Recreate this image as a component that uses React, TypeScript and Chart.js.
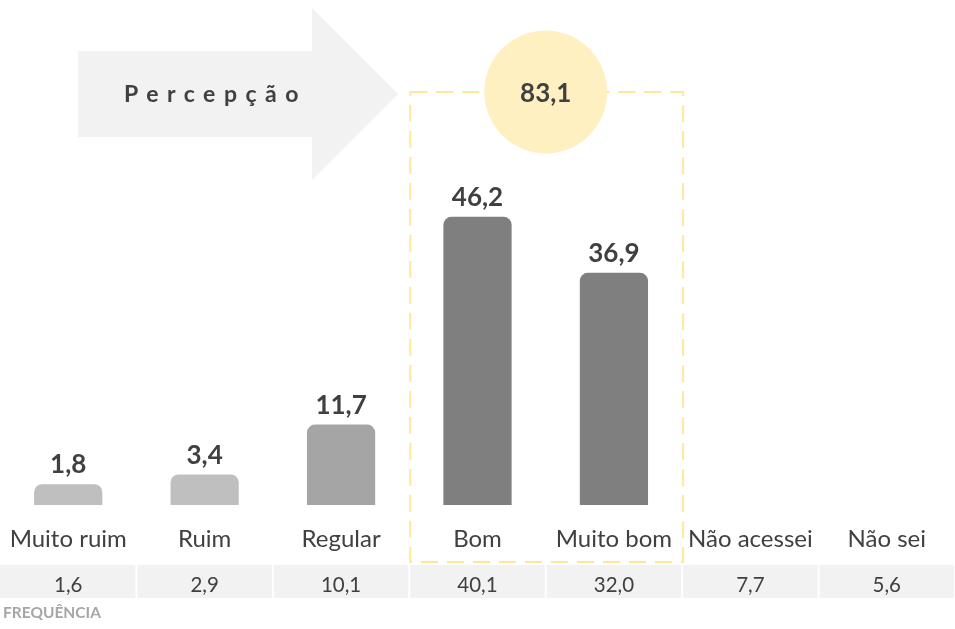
import React, { useEffect, useRef } from "react";
import { Chart, registerables } from "chart.js";

Chart.register(...registerables);

const categories = ["Muito ruim", "Ruim", "Regular", "Bom", "Muito bom", "Não acessei", "Não sei"];
const perceptionValues = [1.8, 3.4, 11.7, 46.2, 36.9, null, null];
const frequencyValues = [1.6, 2.9, 10.1, 40.1, 32.0, 7.7, 5.6];
const highlightedTotal = 83.1;
const titleText = "Percepção";
const frequencyLabel = "FREQUÊNCIA";
const barColors = ["#bfbfbf", "#bfbfbf", "#a5a5a5", "#7f7f7f", "#7f7f7f", "#7f7f7f", "#7f7f7f"];

const TEXT = "#404040";
const FONT = "Lato, 'Open Sans', sans-serif";
const Y_MIN = -1.66;
const Y_MAX = 82.2;

const fmt = (v: number) => v.toFixed(1).replace(".", ",");

const decorPlugin = {
  id: "decor",
  beforeDatasetsDraw(chart: any) {
    const ctx = chart.ctx as CanvasRenderingContext2D;
    ctx.save();
    // arrow
    ctx.fillStyle = "#f2f2f2";
    ctx.beginPath();
    ctx.moveTo(78, 51);
    ctx.lineTo(312, 51);
    ctx.lineTo(312, 8);
    ctx.lineTo(398, 94);
    ctx.lineTo(312, 180);
    ctx.lineTo(312, 137);
    ctx.lineTo(78, 137);
    ctx.closePath();
    ctx.fill();
    ctx.fillStyle = TEXT;
    ctx.font = `bold 23px ${FONT}`;
    (ctx as any).letterSpacing = "8.5px";
    ctx.textAlign = "left";
    ctx.textBaseline = "alphabetic";
    ctx.fillText(titleText, 124, 102);
    (ctx as any).letterSpacing = "0px";
    ctx.restore();
  },
  afterDatasetsDraw(chart: any) {
    const ctx = chart.ctx as CanvasRenderingContext2D;
    const xs = chart.scales.x;
    const meta = chart.getDatasetMeta(0);
    ctx.save();
    // value labels
    ctx.fillStyle = TEXT;
    ctx.textAlign = "center";
    ctx.textBaseline = "alphabetic";
    ctx.font = `bold 26px ${FONT}`;
    meta.data.forEach((bar: any, i: number) => {
      const v = perceptionValues[i];
      if (v == null) return;
      ctx.fillText(fmt(v), bar.x, bar.y - 11);
    });
    // category labels
    ctx.font = `24px ${FONT}`;
    categories.forEach((c, i) => {
      ctx.fillText(c, xs.getPixelForValue(i), 547);
    });
    // frequency row
    const n = categories.length;
    const step = (chart.chartArea.right - chart.chartArea.left) / n;
    frequencyValues.forEach((v, i) => {
      const cx = xs.getPixelForValue(i);
      ctx.fillStyle = "#f2f2f2";
      ctx.fillRect(cx - step / 2 + (i === 0 ? 0 : 1), 565, step - (i === 0 ? 1 : 2), 33);
      ctx.fillStyle = TEXT;
      ctx.font = `20.5px ${FONT}`;
      ctx.fillText(fmt(v), cx, 592);
    });
    ctx.fillStyle = "#a6a6a6";
    ctx.font = `bold 15.5px ${FONT}`;
    ctx.textAlign = "left";
    ctx.fillText(frequencyLabel, 3, 618);
    // dashed highlight box
    const left = xs.getPixelForValue(3) - step / 2 + 1;
    const right = xs.getPixelForValue(4) + step / 2 + 1;
    ctx.strokeStyle = "#ffe699";
    ctx.lineWidth = 2;
    ctx.setLineDash([17, 9]);
    ctx.strokeRect(left, 92, right - left, 562 - 92);
    ctx.setLineDash([]);
    // circle
    const ccx = (xs.getPixelForValue(3) + xs.getPixelForValue(4)) / 2;
    ctx.fillStyle = "#fff0c1";
    ctx.beginPath();
    ctx.arc(ccx, 92, 61.5, 0, Math.PI * 2);
    ctx.fill();
    ctx.fillStyle = TEXT;
    ctx.textAlign = "center";
    ctx.font = `bold 26px ${FONT}`;
    ctx.fillText(fmt(highlightedTotal), ccx, 102);
    ctx.restore();
  },
};

export default function App() {
  const ref = useRef<HTMLCanvasElement | null>(null);
  useEffect(() => {
    if (!ref.current) return;
    const chart = new Chart(ref.current, {
      type: "bar",
      data: {
        labels: categories,
        datasets: [
          {
            data: perceptionValues as any,
            backgroundColor: barColors,
            base: Y_MIN,
            borderRadius: { topLeft: 8, topRight: 8, bottomLeft: 0, bottomRight: 0 },
            borderSkipped: false,
            barPercentage: 0.5,
            categoryPercentage: 1,
          } as any,
        ],
      },
      options: {
        animation: false,
        responsive: true,
        maintainAspectRatio: false,
        layout: { padding: { top: 0, bottom: 124, left: 0, right: 0 } },
        plugins: { legend: { display: false }, tooltip: { enabled: false } },
        scales: {
          x: { display: false },
          y: { display: false, min: Y_MIN, max: Y_MAX },
        },
      },
      plugins: [decorPlugin],
    });
    return () => chart.destroy();
  }, []);
  return (
    <div style={{ position: "fixed", left: 0, top: 0, width: 955, height: 629, background: "#fff" }}>
      <canvas ref={ref} />
    </div>
  );
}
